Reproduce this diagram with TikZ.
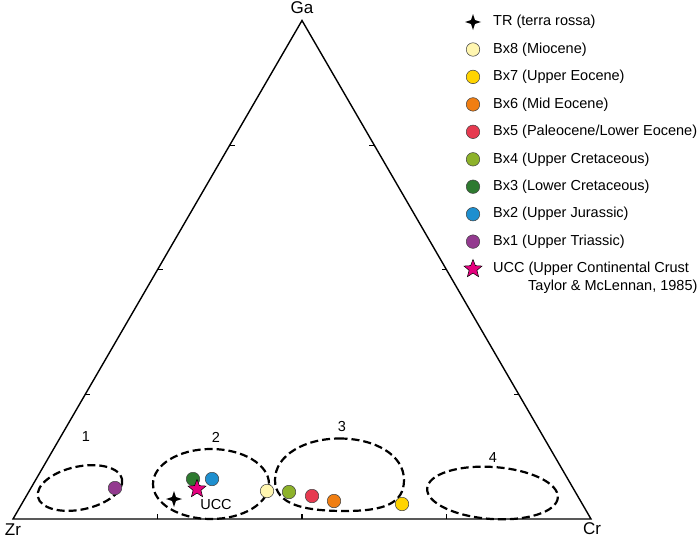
\documentclass[tikz,border=0pt]{standalone}
\usepackage{fontspec}
\setmainfont{Liberation Sans}
\usetikzlibrary{calc,shapes.geometric}
\definecolor{cBxEight}{HTML}{FFF6B0}
\definecolor{cBxSeven}{HTML}{FFD400}
\definecolor{cBxSix}{HTML}{F07E12}
\definecolor{cBxFive}{HTML}{E63A50}
\definecolor{cBxFour}{HTML}{8DB22A}
\definecolor{cBxThree}{HTML}{2E7A30}
\definecolor{cBxTwo}{HTML}{1E8FCF}
\definecolor{cBxOne}{HTML}{933A8F}
\definecolor{cUCC}{HTML}{E5007E}
\tikzset{
  dot/.style={circle, draw=black!75, line width=0.5pt, minimum size=13.5pt, inner sep=0pt},
  field/.style={line width=2.2pt, dash pattern=on 8pt off 4pt},
  txt/.style={font=\fontsize{14.5}{17}\selectfont, inner sep=0pt},
  leg/.style={txt, anchor=west},
  axl/.style={font=\fontsize{17}{20}\selectfont, inner sep=0pt},
  uccstar/.style={star, star points=5, star point ratio=2.3, minimum size=19pt, inner sep=0pt, fill=cUCC, draw=black, line width=0.5pt},
  tickmark/.style={line width=1.2pt},
  trstar/.pic={\fill[black] (0:8) -- (45:2.8) -- (90:8) -- (135:2.8) -- (180:8) -- (225:2.8) -- (270:8) -- (315:2.8) -- cycle;}
}
\begin{document}
\begin{tikzpicture}[x=1pt,y=-1pt]
\useasboundingbox (0,0) rectangle (699,538);
% vertices
\coordinate (Zr) at (13,519);
\coordinate (Cr) at (591,519);
\coordinate (Ga) at (302,20.5);
\draw[line width=1.4pt, line join=miter] (Zr) -- (Cr) -- (Ga) -- cycle;
\node[axl] (GaL) at (302,8) {Ga};
\node[axl] (ZrL) at (13,530) {Zr};
\node[axl] (CrL) at (592,529) {Cr};
% ticks
\foreach \f/\n in {0.25/a,0.5/b,0.75/c}{
  \coordinate (B\n) at ($(Zr)!\f!(Cr)$);
  \coordinate (L\n) at ($(Zr)!\f!(Ga)$);
  \coordinate (R\n) at ($(Cr)!\f!(Ga)$);
  \draw[tickmark] (B\n) -- ++(0,-5);
  \draw[tickmark] (L\n) -- ++(5,0);
  \draw[tickmark] (R\n) -- ++(-5,0);
}
% fields
\draw[field, rotate around={12:(80,488)}] (80,488) ellipse [x radius=43, y radius=21.5];
\draw[field] (211,484) ellipse [x radius=58, y radius=35];
\draw[field] (339.5,438.5) .. controls (375,438.5) and (404,455) .. (404,480)
  .. controls (404,503) and (385,511) .. (345,511)
  .. controls (305,511) and (275,505) .. (275,480)
  .. controls (275,455) and (305,438.5) .. (339.5,438.5) -- cycle;
\draw[field, rotate around={-4:(492.5,493)}] (492.5,493) ellipse [x radius=65.5, y radius=26];
\node[txt] (n1) at (86,437) {1};
\node[txt] (n2) at (216,437) {2};
\node[txt] (n3) at (342,427) {3};
\node[txt] (n4) at (493,458) {4};
% data points
\node[dot, fill=cBxOne] (p1) at (115,488) {};
\node[dot, fill=cBxThree] (p3) at (193,479) {};
\node[dot, fill=cBxTwo] (p2) at (212,479) {};
\pic at (174,499) {trstar};
\node[uccstar] (pucc) at (197,489) {};
\node[txt] (ucclabel) at (216,505) {UCC};
\node[dot, fill=cBxEight] (p8) at (267,491) {};
\node[dot, fill=cBxFour] (p4) at (289,492) {};
\node[dot, fill=cBxFive] (p5) at (312,496) {};
\node[dot, fill=cBxSix] (p6) at (334,501) {};
\node[dot, fill=cBxSeven] (p7) at (402,504) {};
% legend
\pic at (473,22) {trstar};
\node[leg] (t0) at (493,22) {TR (terra rossa)};
\node[dot, fill=cBxEight] (m1) at (473,49.5) {};
\node[leg] (t1) at (493,49.5) {Bx8 (Miocene)};
\node[dot, fill=cBxSeven] (m2) at (473,76.9) {};
\node[leg] (t2) at (493,76.9) {Bx7 (Upper Eocene)};
\node[dot, fill=cBxSix] (m3) at (473,104.4) {};
\node[leg] (t3) at (493,104.4) {Bx6 (Mid Eocene)};
\node[dot, fill=cBxFive] (m4) at (473,131.8) {};
\node[leg] (t4) at (493,131.8) {Bx5 (Paleocene/Lower Eocene)};
\node[dot, fill=cBxFour] (m5) at (473,159.3) {};
\node[leg] (t5) at (493,159.3) {Bx4 (Upper Cretaceous)};
\node[dot, fill=cBxThree] (m6) at (473,186.7) {};
\node[leg] (t6) at (493,186.7) {Bx3 (Lower Cretaceous)};
\node[dot, fill=cBxTwo] (m7) at (473,214.2) {};
\node[leg] (t7) at (493,214.2) {Bx2 (Upper Jurassic)};
\node[dot, fill=cBxOne] (m8) at (473,241.6) {};
\node[leg] (t8) at (493,241.6) {Bx1 (Upper Triassic)};
\node[uccstar] (m9) at (473,269) {};
\node[leg] (t9) at (493,269) {UCC (Upper Continental Crust};
\node[leg] (t10) at (528,287) {Taylor \& McLennan, 1985)};
\end{tikzpicture}
\end{document}
